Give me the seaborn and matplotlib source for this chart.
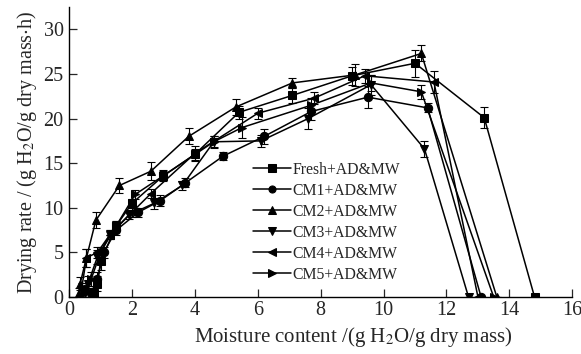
import pandas as pd
import matplotlib.pyplot as plt
import seaborn as sns

# === DATA ===
SERIES = ["Fresh+AD&MW", "CM1+AD&MW", "CM2+AD&MW", "CM3+AD&MW", "CM4+AD&MW", "CM5+AD&MW"]
MARKERS = ["s", "o", "^", "v", "<", ">"]

fresh_x = [14.8, 13.2, 11.0, 9.0, 7.1, 5.4, 4.0, 3.0, 2.0, 1.5, 1.0, 0.9, 0.8]
fresh_y = [0, 20.1, 26.2, 24.8, 22.6, 20.7, 16.0, 13.6, 10.5, 8.0, 4.0, 1.5, 0.5]
fresh_e = [0, 1.2, 1.5, 1.0, 0.8, 0.7, 0.6, 0.5, 0.5, 0.5, 1.0, 0.8, 0.5]

cm1_x = [13.1, 11.4, 9.5, 7.7, 6.2, 4.9, 3.7, 2.9, 2.2, 1.5, 1.1, 0.9, 0.7]
cm1_y = [0, 21.2, 22.4, 20.8, 18.0, 15.8, 12.8, 10.8, 9.5, 7.5, 5.0, 2.0, 0.5]
cm1_e = [0, 0.5, 1.2, 1.0, 0.8, 0.4, 0.5, 0.6, 0.5, 0.5, 0.6, 0.8, 0.5]

cm2_x = [13.6, 11.2, 9.1, 7.1, 5.3, 3.8, 2.6, 1.6, 0.85, 0.55, 0.35, 0.3]
cm2_y = [0, 27.3, 24.9, 24.0, 21.3, 18.0, 14.1, 12.5, 8.6, 4.4, 1.5, 0.5]
cm2_e = [0, 0.9, 1.2, 0.6, 0.9, 0.9, 1.0, 0.8, 0.9, 1.0, 0.7, 0.5]

cm3_x = [12.7, 11.3, 9.6, 7.6, 6.1, 4.6, 3.6, 2.7, 1.9, 1.3, 0.9, 0.6, 0.5]
cm3_y = [0, 16.6, 23.8, 20.0, 17.5, 17.4, 12.5, 10.5, 9.2, 7.0, 4.5, 1.5, 0.5]
cm3_e = [0, 0.9, 1.1, 1.2, 0.7, 0.6, 0.5, 0.6, 0.5, 0.5, 0.8, 0.8, 0.5]

cm4_x = [13.0, 11.6, 9.4, 7.8, 6.0, 4.0, 2.6, 2.0, 1.3, 0.9, 0.55, 0.4]
cm4_y = [0, 24.1, 24.8, 22.3, 20.6, 16.1, 11.6, 9.5, 7.0, 5.0, 4.4, 1.0]
cm4_e = [0, 1.2, 0.8, 0.7, 0.6, 0.8, 0.5, 0.5, 0.5, 0.6, 1.0, 0.6]

cm5_x = [13.5, 11.2, 9.6, 7.7, 5.5, 4.6, 3.0, 2.1, 1.5, 1.0, 0.7, 0.5]
cm5_y = [0, 23.0, 24.0, 21.5, 19.0, 17.4, 13.6, 11.5, 8.0, 5.0, 2.0, 0.5]
cm5_e = [0, 0.8, 0.9, 0.8, 1.2, 0.7, 0.6, 0.5, 0.5, 0.6, 0.8, 0.5]

XS = [fresh_x, cm1_x, cm2_x, cm3_x, cm4_x, cm5_x]
YS = [fresh_y, cm1_y, cm2_y, cm3_y, cm4_y, cm5_y]
ES = [fresh_e, cm1_e, cm2_e, cm3_e, cm4_e, cm5_e]

# === BUILD TABLE ===
frames = []
for name, xs, ys, es in zip(SERIES, XS, YS, ES):
    frames.append(pd.DataFrame({"x": xs, "y": ys, "err": es, "series": name}))
df = pd.concat(frames, ignore_index=True)

# === PLOT ===
sns.set_style("ticks")
plt.rcParams["font.family"] = ["Liberation Serif", "DejaVu Serif"]
plt.rcParams["mathtext.fontset"] = "stix"

fig = plt.figure(figsize=(5.81, 3.54), dpi=100)
ax = fig.add_axes([0.119, 0.161, 0.866, 0.819])

for name in SERIES:
    d = df[df["series"] == name]
    ax.errorbar(d["x"], d["y"], yerr=d["err"], fmt="none", ecolor="black",
                elinewidth=0.8, capsize=3, capthick=0.8, zorder=2)

sns.lineplot(data=df, x="x", y="y", style="series", style_order=SERIES,
             markers=dict(zip(SERIES, MARKERS)), dashes=False, color="black",
             sort=False, estimator=None, units="series", linewidth=1.1,
             markersize=6, markeredgecolor="black", ax=ax, zorder=3)

ax.set_xlim(0, 16)
ax.set_ylim(0, 32.5)
ax.set_xticks(range(0, 17, 2))
ax.set_yticks(range(0, 31, 5))
ax.tick_params(direction="in", length=6, width=0.9, labelsize=14.5)
ax.tick_params(axis="x", pad=3)
ax.tick_params(axis="y", pad=4)
for s in ["top", "right"]:
    ax.spines[s].set_visible(False)
for s in ["left", "bottom"]:
    ax.spines[s].set_linewidth(1.0)
    ax.spines[s].set_color("black")

ax.set_xlabel("Moisture content /(g H$_2$O/g dry mass)", fontsize=15)
ax.xaxis.set_label_coords(0.565, -0.095)
ax.set_ylabel("Drying rate / (g H$_2$O/g dry mass$\\cdot$h)", fontsize=14.5, labelpad=3)

leg = ax.legend(title=None, frameon=False, fontsize=11.3, loc="lower left",
                bbox_to_anchor=(0.35, 0.022), handlelength=2.4, handletextpad=0.1,
                labelspacing=0.32, borderpad=0, markerscale=0.85)

plt.savefig("out.png", dpi=100)
plt.close()
